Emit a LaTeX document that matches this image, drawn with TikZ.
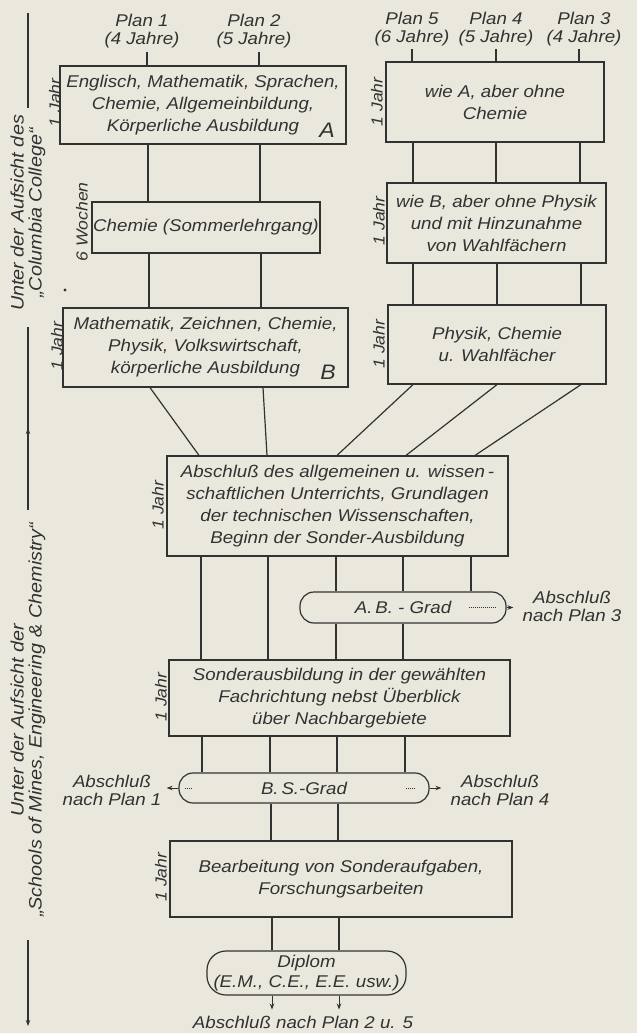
\documentclass[tikz,border=0pt]{standalone}
\usepackage{fontspec}
\setmainfont{Liberation Sans}[FakeStretch=1.1]
\usetikzlibrary{arrows.meta}
\definecolor{paper}{RGB}{234,232,221}
\definecolor{ink}{RGB}{50,50,50}
\newcommand\mylinkv[3]{\path (#3,0) coordinate (vx); \draw[line] (#1.south -| vx) -- (#2.north -| vx);}
\newcommand\mylinkd[4]{\path (#3,0) coordinate (da) (#4,0) coordinate (db); \draw[line] (#1.south -| da) -- (#2.north -| db);}
\begin{document}
\begin{tikzpicture}[x=1pt,y=-1pt,
  every node/.style={font=\itshape\fontsize{17}{22}\selectfont, text=ink, inner sep=0pt},
  line/.style={draw=ink, line width=1.2pt},
  box/.style={line, rectangle, align=center},
  pill/.style={line, rectangle, align=center},
  yr/.style={rotate=90, font=\itshape\fontsize{16}{18}\selectfont},
  lbl/.style={align=center, font=\itshape\fontsize{17}{18}\selectfont},
  side/.style={align=center, rotate=90, font=\itshape\fontsize{18}{18}\selectfont},
  tip/.style={-{Stealth[length=6pt,width=4.5pt]}},
  dots/.style={draw=ink, densely dotted, line width=1pt},
]
\fill[paper] (0,0) rectangle (637,1033);
\useasboundingbox (0,0) rectangle (637,1033);

% ---- plan labels
\node[lbl] (P1) at (142,31) {Plan 1\\(4 Jahre)};
\node[lbl] (P2) at (254,31) {Plan 2\\(5 Jahre)};
\node[lbl] (P5) at (412,29) {Plan 5\\(6 Jahre)};
\node[lbl] (P4) at (496,29) {Plan 4\\(5 Jahre)};
\node[lbl] (P3) at (584,29) {Plan 3\\(4 Jahre)};

% ---- left column boxes
\node[box, minimum width=286pt, minimum height=78pt] (A) at (203,105)
  {Englisch, Mathematik, Sprachen,\\Chemie, Allgemeinbildung,\\Körperliche Ausbildung};
\node[font=\itshape\fontsize{21}{21}\selectfont] (Alab) at (327,130) {A};
\node[box, minimum width=228pt, minimum height=51pt] (Chem) at (206,227.5) {Chemie (Sommerlehrgang)};
\node[box, minimum width=285pt, minimum height=79pt] (B) at (205.5,347.5)
  {Mathematik, Zeichnen, Chemie,\\Physik, Volkswirtschaft,\\körperliche Ausbildung};
\node[font=\itshape\fontsize{21}{21}\selectfont] (Blab) at (328,372) {B};

% ---- right column boxes
\node[box, minimum width=218pt, minimum height=80pt] (R1) at (495,102) {wie A, aber ohne\\Chemie};
\node[box, minimum width=219pt, minimum height=80pt] (R2) at (496.5,223)
  {wie B, aber ohne Physik\\und mit Hinzunahme\\von Wahlfächern};
\node[box, minimum width=218pt, minimum height=79pt] (R3) at (497,344.5) {Physik, Chemie\\u. Wahlfächer};

% ---- central column
\node[box, minimum width=341pt, minimum height=100pt] (Big) at (337.5,506)
  {Abschluß des allgemeinen u. wissen\,-\\schaftlichen Unterrichts, Grundlagen\\der technischen Wissenschaften,\\Beginn der Sonder-Ausbildung};
\node[pill, rounded corners=14pt, minimum width=206pt, minimum height=31pt] (AB) at (403,607.5) {A.\,B. - Grad};
\node[box, minimum width=341pt, minimum height=76pt] (Son) at (339.5,698)
  {Sonderausbildung in der gewählten\\Fachrichtung nebst Überblick\\über Nachbargebiete};
\node[pill, rounded corners=14pt, minimum width=250pt, minimum height=30pt] (BS) at (304,788) {B.\,S.-Grad};
\node[box, minimum width=342pt, minimum height=76pt] (Bea) at (341,879)
  {Bearbeitung von Sonderaufgaben,\\Forschungsarbeiten};
\node[pill, rounded corners=19pt, minimum width=199pt, minimum height=44pt,
  font=\itshape\fontsize{17}{20}\selectfont] (Dip) at (306.5,973) {Diplom\\(E.M., C.E., E.E. usw.)};

% ---- outcome labels
\node[lbl] (ab3) at (572,606) {Abschluß\\nach Plan 3};
\node[lbl] (ab1) at (112,790) {Abschluß\\nach Plan 1};
\node[lbl] (ab4) at (500,790) {Abschluß\\nach Plan 4};
\node[lbl] (ab25) at (303,1022) {Abschluß nach Plan 2 u. 5};

% ---- duration labels
\node[yr] (y1) at (55,103) {1 Jahr};
\node[yr] (y2) at (82,222) {6 Wochen};
\node[yr] (y3) at (57,346) {1 Jahr};
\node[yr] (y4) at (377,102) {1 Jahr};
\node[yr] (y5) at (379,221) {1 Jahr};
\node[yr] (y6) at (379,344) {1 Jahr};
\node[yr] (y7) at (158,505) {1 Jahr};
\node[yr] (y8) at (161,697) {1 Jahr};
\node[yr] (y9) at (161,877) {1 Jahr};

% ---- side brackets
\node[side] (col) at (28,213) {Unter der Aufsicht des\\„Columbia College“};
\node[side] (sch) at (28,720) {Unter der Aufsicht der\\„Schools of Mines, Engineering \& Chemistry“};
\coordinate (s1) at (28,13);
\coordinate (s2) at (28,108);
\coordinate (s3) at (28,327);
\coordinate (s4) at (28,428);
\coordinate (s5) at (28,510);
\coordinate (s6) at (28,940);
\coordinate (s7) at (28,1026);
\draw[line] (s1) -- (s2);
\draw[line] (s3) -- (s5);
\draw[line, tip] (s5) -- (s4);
\draw[line, tip] (s6) -- (s7);
\fill[ink] (65,290) circle (1.6pt);

% ---- plan ticks
\foreach \x/\p in {147/P1,259/P2}{\path (\x,0) coordinate (tx); \draw[line] ([yshift=-4pt]\p.south -| tx) -- (A.north -| tx);}
\foreach \x/\p in {412/P5,496/P4,579/P3}{\path (\x,0) coordinate (tx); \draw[line] ([yshift=-3pt]\p.south -| tx) -- (R1.north -| tx);}

% ---- connectors
\mylinkv{A}{Chem}{148}
\mylinkv{A}{Chem}{260}
\mylinkv{Chem}{B}{149}
\mylinkv{Chem}{B}{261}
\mylinkv{R1}{R2}{413}
\mylinkv{R1}{R2}{496}
\mylinkv{R1}{R2}{580}
\mylinkv{R2}{R3}{413}
\mylinkv{R2}{R3}{497}
\mylinkv{R2}{R3}{581}
\mylinkd{B}{Big}{150}{199}
\mylinkd{B}{Big}{263}{267}
\mylinkd{R3}{Big}{413}{337}
\mylinkd{R3}{Big}{497}{406}
\mylinkd{R3}{Big}{581}{475}
\mylinkv{Big}{Son}{201}
\mylinkv{Big}{Son}{268}
\mylinkv{Big}{AB}{336}
\mylinkv{Big}{AB}{403}
\mylinkv{Big}{AB}{471}
\mylinkv{AB}{Son}{336}
\mylinkv{AB}{Son}{403}
\mylinkv{Son}{BS}{202}
\mylinkv{Son}{BS}{270}
\mylinkv{Son}{BS}{337}
\mylinkv{Son}{BS}{405}
\mylinkv{BS}{Bea}{271}
\mylinkv{BS}{Bea}{338}
\mylinkv{Bea}{Dip}{272}
\mylinkv{Bea}{Dip}{339}
\foreach \x in {272,339}{\path (\x,0) coordinate (tx); \draw[line, line width=1pt, tip, shorten >=6pt] (Dip.south -| tx) -- (ab25.north -| tx);}

% ---- exits
\path (469,0) coordinate (e1) (497,0) coordinate (e2);
\draw[dots] (AB.center -| e1) -- (AB.center -| e2);
\draw[line, line width=1pt, tip, shorten >=9pt] (AB.east) -- (AB.east -| ab3.west);
\path (185,0) coordinate (e3) (193,0) coordinate (e4) (406,0) coordinate (e5) (416,0) coordinate (e6);
\draw[dots] (BS.center -| e3) -- (BS.center -| e4);
\draw[dots] (BS.center -| e5) -- (BS.center -| e6);
\draw[line, line width=1pt, tip, shorten >=5pt] (BS.west) -- (BS.west -| ab1.east);
\draw[line, line width=1pt, tip, shorten >=9pt] (BS.east) -- (BS.east -| ab4.west);
\end{tikzpicture}
\end{document}
